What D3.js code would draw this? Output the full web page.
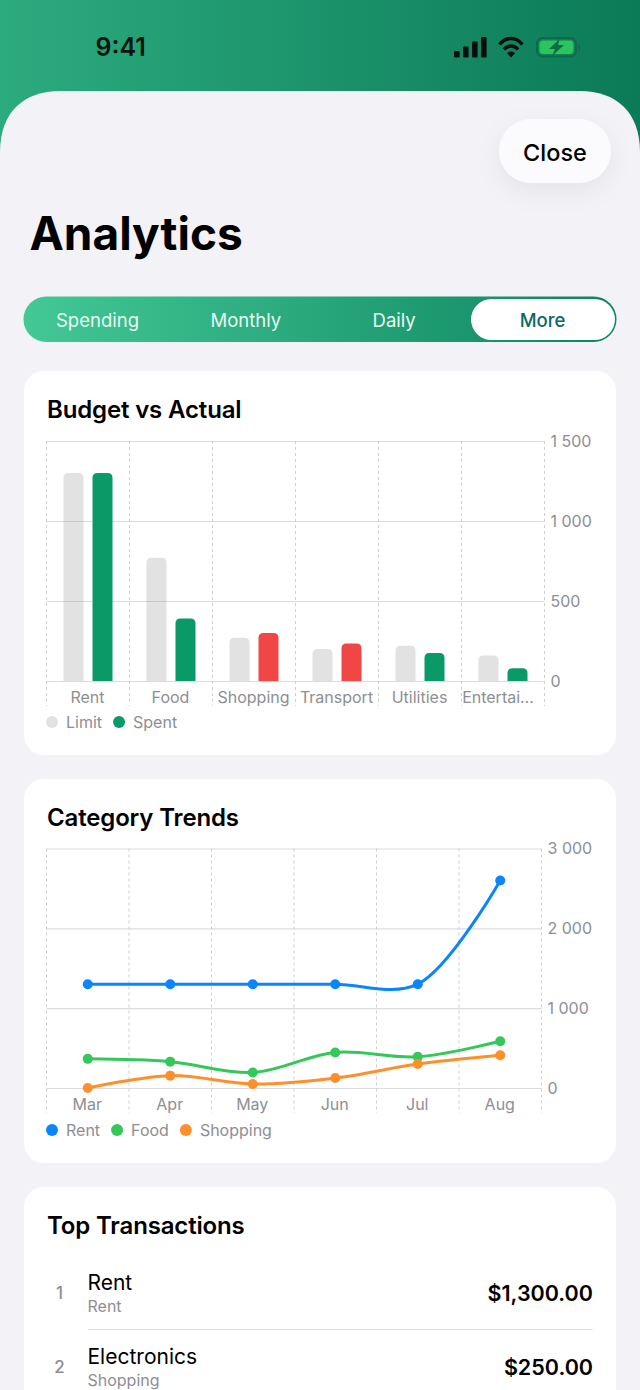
<!DOCTYPE html>
<html><head><meta charset="utf-8">
<script src="https://cdn.jsdelivr.net/npm/d3@7/dist/d3.min.js"></script>
<style>
html,body{margin:0;padding:0;background:#f2f2f7;overflow:hidden;width:640px;height:1390px}
svg{display:block;font-family:Inter,"Noto Sans",sans-serif}
</style></head><body>
<svg id="c" width="640" height="1390" viewBox="0 0 640 1390"></svg>
<script>
const tabs=["Spending","Monthly","Daily","More"];
const budgetCats=["Rent","Food","Shopping","Transport","Utilities","Entertai…"];
const budgetLimit=[1300,770,270,200,220,160];
const budgetSpent=[1300,390,300,235,175,80];
const budgetTicks=[0,500,1000,1500];
const months=["Mar","Apr","May","Jun","Jul","Aug"];
const rentTrend=[1300,1300,1300,1300,1300,2600];
const foodTrend=[365,330,195,445,390,585];
const shoppingTrend=[0,155,50,125,300,410];
const trendTicks=[0,1000,2000,3000];
const txRanks=[1,2];
const txNames=["Rent","Electronics"];
const txCats=["Rent","Shopping"];
const txAmounts=["$1,300.00","$250.00"];

const fmt=d3.formatLocale({thousands:"\u00a0",grouping:[3],decimal:".",currency:["$",""]}).format(",d");
const svg=d3.select("#c");
const defs=svg.append("defs");
function grad(id,stops){const g=defs.append("linearGradient").attr("id",id).attr("x1",0).attr("x2",1).attr("y1",0).attr("y2",0);
 stops.forEach(([o,c])=>g.append("stop").attr("offset",o).attr("stop-color",c));}
grad("hdr",[[0,"#2cab7f"],[1,"#0b7a57"]]);
grad("seg",[[0,"#43c896"],[1,"#0d8560"]]);
const sh=defs.append("filter").attr("id","sh").attr("x","-50%").attr("y","-50%").attr("width","200%").attr("height","220%");
sh.append("feDropShadow").attr("dx",0).attr("dy",8).attr("stdDeviation",12).attr("flood-color","#000").attr("flood-opacity",.06);

function T(x,y,s,size,weight,fill,anchor){return svg.append("text").attr("x",x).attr("y",y).text(s)
 .attr("font-size",size).attr("font-weight",weight).attr("fill",fill).attr("text-anchor",anchor||"start");}

// header and sheet
svg.append("rect").attr("width",640).attr("height",170).attr("fill","url(#hdr)");
svg.append("path").attr("d","M0 1390V152C0 112 24 91 60 91H580C616 91 640 112 640 152V1390Z").attr("fill","#f2f2f7");

// status bar
T(95.5,56,"9:41",25,600,"#06140f");
const ic=svg.append("g").attr("fill","#050f0b");
[[454,51,6],[463,46.5,10.5],[472,41.5,15.5],[481,37,20]].forEach(([x,y,h])=>ic.append("rect").attr("x",x).attr("y",y).attr("width",5.6).attr("height",h+0.5).attr("rx",1.3));
const w=svg.append("g").attr("fill","none").attr("stroke","#050f0b").attr("stroke-width",3.4);
w.append("path").attr("d","M499.5 44.5C506 36.5 516 36.5 522.5 44.5");
w.append("path").attr("d","M504 49.5C508 44.8 514 44.8 518 49.5");
svg.append("path").attr("d","M507 53.3C509.5 50.8 512.5 50.8 515 53.3L511 57.5Z").attr("fill","#050f0b");
svg.append("rect").attr("x",537).attr("y",38).attr("width",39).attr("height",18.5).attr("rx",5.5).attr("fill","none").attr("stroke","#0f6a47").attr("stroke-width",2);
svg.append("rect").attr("x",539.5).attr("y",40.5).attr("width",34).attr("height",13.5).attr("rx",3.5).attr("fill","#2cc45c");
svg.append("path").attr("d","M578.5 43.5C580.5 44.5 580.5 50.5 578.5 51.5Z").attr("fill","#0f6a47");
svg.append("path").attr("d","M560 38.5L549 49H555L552 56L564 45H558Z").attr("fill","#0f6a47");

// close + title
svg.append("rect").attr("x",499).attr("y",119).attr("width",112).attr("height",64).attr("rx",32).attr("fill","#fbfbfd").attr("filter","url(#sh)");
T(555,160.5,"Close",23.5,500,"#000","middle");
T(29.5,250,"Analytics",46,700,"#000");

// segmented control
svg.append("rect").attr("x",23.5).attr("y",296.5).attr("width",593).attr("height",45.5).attr("rx",22.7).attr("fill","url(#seg)");
svg.append("rect").attr("x",471).attr("y",299).attr("width",144).attr("height",41).attr("rx",20.5).attr("fill","#fff");
const segX=d3.scalePoint().domain(tabs).range([97.5,542.5]);
tabs.forEach(t=>T(segX(t),327,t,18.5,t==="More"?500:400,t==="More"?"#0a6a5e":"#eafaf3","middle"));

// cards
[[371,384],[779,384],[1187,300]].forEach(([y,h])=>svg.append("rect").attr("x",24).attr("y",y).attr("width",592).attr("height",h).attr("rx",20).attr("fill","#fff"));
[[47,418,"Budget vs Actual"],[47,826,"Category Trends"],[47,1233.5,"Top Transactions"]].forEach(([x,y,s])=>T(x,y,s,24,600,"#000").attr("letter-spacing",-0.15));

const GRID="#dcdce0",VGRID="#cfcfd3",LBL="#8e8e93";
function frame(g,x,y,ticks,bottom){
 const [x0,x1]=x.range();
 const ax=g.append("g").attr("transform",`translate(${x1},0)`).call(d3.axisRight(y).tickValues(ticks).tickFormat(fmt).tickSize(0).tickPadding(6));
 ax.select(".domain").remove();
 ax.selectAll("text").attr("font-size",16).attr("fill",LBL).attr("font-family","Inter");
 const gl=g.append("g").attr("transform",`translate(${x0},0)`).call(d3.axisLeft(y).tickValues(ticks).tickFormat("").tickSize(-(x1-x0)));
 gl.select(".domain").remove();
 gl.selectAll("line").attr("stroke",GRID).attr("stroke-width",1.2);
 const edges=x.domain().map(d=>x(d)).concat([x1]);
 g.selectAll(null).data(edges).join("line").attr("x1",d=>d).attr("x2",d=>d)
  .attr("y1",y.range()[1]).attr("y2",bottom).attr("stroke",VGRID).attr("stroke-width",1).attr("stroke-dasharray","3 3");
 const xa=g.append("g").attr("transform",`translate(0,${y.range()[0]})`).call(d3.axisBottom(x).tickSize(0).tickPadding(10.5));
 xa.select(".domain").remove();
 xa.selectAll("text").attr("font-size",16).attr("fill",LBL).attr("font-family","Inter")
  .attr("dx",d=>d.endsWith("…")?-5:-0.5);
}
function legend(y,items){let cx=52;items.forEach(([s,c],i)=>{
 svg.append("circle").attr("cx",cx).attr("cy",y).attr("r",6).attr("fill",c);
 const t=T(cx+14,y+6,s,16,400,LBL);
 cx+=14+t.node().getComputedTextLength()+17;});}

// budget chart
const g1=svg.append("g");
const x1=d3.scaleBand().domain(budgetCats).range([46.5,544.5]);
const y1=d3.scaleLinear().domain([0,1500]).range([681,441]);
frame(g1,x1,y1,budgetTicks,706);
const barW=20,gap=9;
function topRound(x,y0,v,w,r){const t=y0(v),b=y0(0),p=d3.path();r=Math.min(r,(b-t));
 p.moveTo(x,b);p.lineTo(x,t+r);p.quadraticCurveTo(x,t,x+r,t);p.lineTo(x+w-r,t);p.quadraticCurveTo(x+w,t,x+w,t+r);p.lineTo(x+w,b);p.closePath();return p.toString();}
budgetCats.forEach((c,i)=>{
 const mid=x1(c)+x1.bandwidth()/2;
 g1.append("path").attr("d",topRound(mid-gap/2-barW,y1,budgetLimit[i],barW,5)).attr("fill","#8e8e93").attr("fill-opacity",.26);
 g1.append("path").attr("d",topRound(mid+gap/2,y1,budgetSpent[i],barW,5)).attr("fill",budgetSpent[i]>budgetLimit[i]?"#f04646":"#0a9a68");
});
legend(722,[["Limit","#e2e2e4"],["Spent","#0a9a68"]]);

// trend chart
const g2=svg.append("g");
const x2=d3.scaleBand().domain(months).range([46.5,541.5]);
const y2=d3.scaleLinear().domain([0,3000]).range([1088,848.5]);
frame(g2,x2,y2,trendTicks,1113);
const mx=m=>x2(m)+x2.bandwidth()/2;
const line=d3.line().x((d,i)=>mx(months[i])).y(d=>y2(d)).curve(d3.curveCatmullRom.alpha(0.5));
[[rentTrend,"#0a84ff"],[foodTrend,"#34c759"],[shoppingTrend,"#ff8f2b"]].forEach(([s,c])=>{
 g2.append("path").attr("d",line(s)).attr("fill","none").attr("stroke",c).attr("stroke-width",3);
 g2.selectAll(null).data(s).join("circle").attr("cx",(d,i)=>mx(months[i])).attr("cy",d=>y2(d)).attr("r",5).attr("fill",c);
});
legend(1130,[["Rent","#0a84ff"],["Food","#34c759"],["Shopping","#ff8f2b"]]);

// transactions
const rowY=d3.scaleLinear().domain([0,1]).range([1290,1363.5]);
txNames.forEach((n,i)=>{
 const y=rowY(i);
 T(59.5,y+9,txRanks[i],17,500,"#8e8e93","middle");
 T(87.5,y,n,21,400,"#000");
 T(87.5,y+22,txCats[i],16,400,"#8e8e93");
 T(593,y+11,txAmounts[i],21.5,600,"#000","end");
});
svg.append("line").attr("x1",88).attr("x2",593).attr("y1",1329.5).attr("y2",1329.5).attr("stroke","#e2e2e5").attr("stroke-width",1);
</script>
</body></html>
